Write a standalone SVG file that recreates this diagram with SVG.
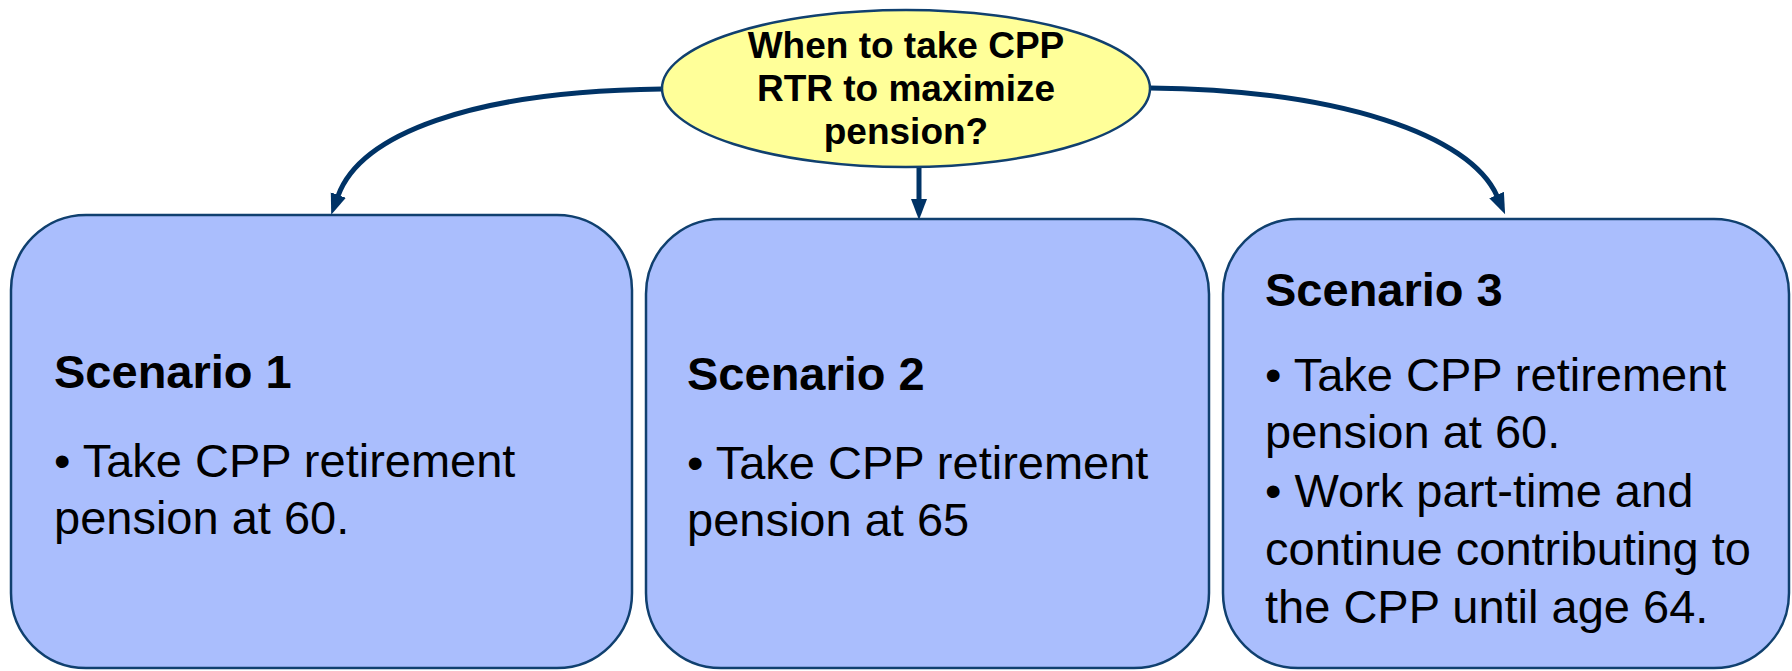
<svg xmlns="http://www.w3.org/2000/svg" width="1792" height="671" viewBox="0 0 1792 671">
<style>
.box{fill:#aabefd;stroke:#10406f;stroke-width:2.5}
.ell{fill:#ffff99;stroke:#10406f;stroke-width:2.5}
.conn{fill:none;stroke:#003366;stroke-width:5}
.t{font-family:"Liberation Sans",Arial,sans-serif;fill:#000}
.title{font-size:37px;font-weight:bold;text-anchor:middle}
.head{font-size:47px;font-weight:bold}
.body{font-size:47px}
</style>
<defs>
<marker id="arr" markerUnits="userSpaceOnUse" markerWidth="22" markerHeight="18" refX="1" refY="8" orient="auto">
<path d="M0,0 L21,8 L0,16 z" fill="#003366"/>
</marker>
</defs>
<rect width="1792" height="671" fill="#fff"/>
<g id="connectors">
<path class="conn" d="M662,89 C470,91 360,135 338,196" marker-end="url(#arr)"/>
<path class="conn" d="M919,167 L919,200" marker-end="url(#arr)"/>
<path class="conn" d="M1150,88 C1340,90 1470,135 1497,196" marker-end="url(#arr)"/>
</g>
<g id="node-question">
<ellipse class="ell" cx="906" cy="88.5" rx="244" ry="78.5"/>
<text class="t title" x="906" y="58">When to take CPP</text>
<text class="t title" x="906" y="101">RTR to maximize</text>
<text class="t title" x="906" y="144">pension?</text>
</g>
<g id="node-scenario1">
<rect class="box" x="11" y="215" width="621" height="453" rx="75" ry="75"/>
<text class="t head" x="54" y="388">Scenario 1</text>
<text class="t body" x="54" y="477">• Take CPP retirement</text>
<text class="t body" x="54" y="534">pension at 60.</text>
</g>
<g id="node-scenario2">
<rect class="box" x="646" y="219" width="563" height="449" rx="75" ry="75"/>
<text class="t head" x="687" y="390">Scenario 2</text>
<text class="t body" x="687" y="479">• Take CPP retirement</text>
<text class="t body" x="687" y="536">pension at 65</text>
</g>
<g id="node-scenario3">
<rect class="box" x="1223" y="219" width="566" height="449" rx="75" ry="75"/>
<text class="t head" x="1265" y="306">Scenario 3</text>
<text class="t body" x="1265" y="391">• Take CPP retirement</text>
<text class="t body" x="1265" y="448">pension at 60.</text>
<text class="t body" x="1265" y="507">• Work part-time and</text>
<text class="t body" x="1265" y="565">continue contributing to</text>
<text class="t body" x="1265" y="623">the CPP until age 64.</text>
</g>
</svg>
